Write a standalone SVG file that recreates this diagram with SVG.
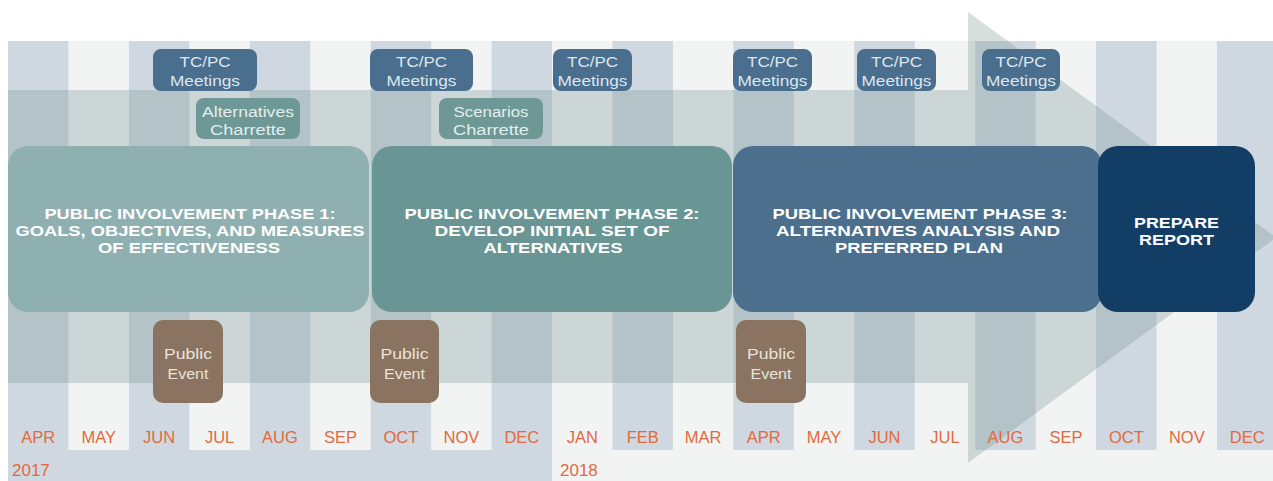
<svg xmlns="http://www.w3.org/2000/svg" width="1273" height="481" viewBox="0 0 1273 481">
  <defs>
    <style>
      .bg-light { fill: #f2f4f4; }
      .bg-blue { fill: #cfd8e0; }
      .flow { fill: #779393; fill-opacity: 0.3; }
      .meet { fill: #4a6e8e; }
      .charrette { fill: #6e9896; }
      .event { fill: #8a7461; }
      .p1 { fill: #8fb0b1; }
      .p2 { fill: #6a9595; }
      .p3 { fill: #4b6f8d; }
      .p4 { fill: #123e66; }
      .small { font-family: "Liberation Sans", Arial, sans-serif; font-size: 15.5px; text-anchor: middle; }
      .meet-t { fill: #dce6ee; }
      .char-t { fill: #e2eeed; }
      .event-t { fill: #ebe3da; }
      .phase-t { font-family: "Liberation Sans", Arial, sans-serif; font-weight: 700; font-size: 15px; fill: #ffffff; text-anchor: middle; }
      .month { font-family: "Liberation Sans", Arial, sans-serif; font-size: 16.5px; fill: #e2693e; text-anchor: middle; }
      .year { font-family: "Liberation Sans", Arial, sans-serif; font-size: 17px; fill: #e2693e; }
    </style>
  </defs>

  <rect x="0" y="0" width="1273" height="481" fill="#ffffff"/>

  <!-- calendar grid: 2017 band and 2018 band with alternating month columns -->
  <g id="calendar">
    <rect class="bg-blue" x="8" y="41" width="544.05" height="440"/>
    <rect class="bg-light" x="552.05" y="41" width="721" height="440"/>
    <rect class="bg-light" x="68.45" y="41" width="60.45" height="409"/>
    <rect class="bg-light" x="189.35" y="41" width="60.45" height="409"/>
    <rect class="bg-light" x="310.25" y="41" width="60.45" height="409"/>
    <rect class="bg-light" x="431.15" y="41" width="60.45" height="409"/>
    <rect class="bg-blue" x="612.5" y="41" width="60.45" height="409"/>
    <rect class="bg-blue" x="733.4" y="41" width="60.45" height="409"/>
    <rect class="bg-blue" x="854.3" y="41" width="60.45" height="409"/>
    <rect class="bg-blue" x="975.2" y="41" width="60.45" height="409"/>
    <rect class="bg-blue" x="1096.1" y="41" width="60.45" height="409"/>
    <rect class="bg-blue" x="1217" y="41" width="60.45" height="409"/>
  </g>

  <!-- translucent timeline arrow -->
  <polygon id="timeline-arrow" class="flow" points="8,90 968,90 968,12 1276,237.5 968,463 968,383 8,383"/>

  <!-- month and year labels -->
  <g id="months">
    <text class="month" x="38.2" y="443">APR</text>
    <text class="month" x="98.7" y="443">MAY</text>
    <text class="month" x="159.1" y="443">JUN</text>
    <text class="month" x="219.6" y="443">JUL</text>
    <text class="month" x="280" y="443">AUG</text>
    <text class="month" x="340.5" y="443">SEP</text>
    <text class="month" x="400.9" y="443">OCT</text>
    <text class="month" x="461.4" y="443">NOV</text>
    <text class="month" x="521.8" y="443">DEC</text>
    <text class="month" x="582.3" y="443">JAN</text>
    <text class="month" x="642.7" y="443">FEB</text>
    <text class="month" x="703.2" y="443">MAR</text>
    <text class="month" x="763.6" y="443">APR</text>
    <text class="month" x="824.1" y="443">MAY</text>
    <text class="month" x="884.5" y="443">JUN</text>
    <text class="month" x="945" y="443">JUL</text>
    <text class="month" x="1005.4" y="443">AUG</text>
    <text class="month" x="1065.9" y="443">SEP</text>
    <text class="month" x="1126.3" y="443">OCT</text>
    <text class="month" x="1186.8" y="443">NOV</text>
    <text class="month" x="1247.2" y="443">DEC</text>
    <text class="year" x="12" y="476">2017</text>
    <text class="year" x="560" y="476">2018</text>
  </g>

  <!-- TC/PC meetings -->
  <g id="meeting-1">
    <rect class="meet" x="153" y="49" width="104" height="42" rx="8"/>
    <text class="small meet-t" x="205" y="67" textLength="51" lengthAdjust="spacingAndGlyphs">TC/PC</text>
    <text class="small meet-t" x="205" y="86" textLength="70" lengthAdjust="spacingAndGlyphs">Meetings</text>
  </g>
  <g id="meeting-2">
    <rect class="meet" x="370" y="49" width="103" height="42" rx="8"/>
    <text class="small meet-t" x="421.5" y="67" textLength="51" lengthAdjust="spacingAndGlyphs">TC/PC</text>
    <text class="small meet-t" x="421.5" y="86" textLength="70" lengthAdjust="spacingAndGlyphs">Meetings</text>
  </g>
  <g id="meeting-3">
    <rect class="meet" x="553" y="49" width="79" height="42" rx="8"/>
    <text class="small meet-t" x="592.5" y="67" textLength="51" lengthAdjust="spacingAndGlyphs">TC/PC</text>
    <text class="small meet-t" x="592.5" y="86" textLength="70" lengthAdjust="spacingAndGlyphs">Meetings</text>
  </g>
  <g id="meeting-4">
    <rect class="meet" x="733" y="49" width="79" height="42" rx="8"/>
    <text class="small meet-t" x="772.5" y="67" textLength="51" lengthAdjust="spacingAndGlyphs">TC/PC</text>
    <text class="small meet-t" x="772.5" y="86" textLength="70" lengthAdjust="spacingAndGlyphs">Meetings</text>
  </g>
  <g id="meeting-5">
    <rect class="meet" x="857" y="49" width="79" height="42" rx="8"/>
    <text class="small meet-t" x="896.5" y="67" textLength="51" lengthAdjust="spacingAndGlyphs">TC/PC</text>
    <text class="small meet-t" x="896.5" y="86" textLength="70" lengthAdjust="spacingAndGlyphs">Meetings</text>
  </g>
  <g id="meeting-6">
    <rect class="meet" x="982" y="49" width="78" height="42" rx="8"/>
    <text class="small meet-t" x="1021" y="67" textLength="51" lengthAdjust="spacingAndGlyphs">TC/PC</text>
    <text class="small meet-t" x="1021" y="86" textLength="70" lengthAdjust="spacingAndGlyphs">Meetings</text>
  </g>

  <!-- charrettes -->
  <g id="alternatives-charrette">
    <rect class="charrette" x="196" y="98" width="104" height="41" rx="8"/>
    <text class="small char-t" x="248" y="117" textLength="92" lengthAdjust="spacingAndGlyphs">Alternatives</text>
    <text class="small char-t" x="248" y="135" textLength="76" lengthAdjust="spacingAndGlyphs">Charrette</text>
  </g>
  <g id="scenarios-charrette">
    <rect class="charrette" x="439" y="98" width="104" height="41" rx="8"/>
    <text class="small char-t" x="491" y="117" textLength="75" lengthAdjust="spacingAndGlyphs">Scenarios</text>
    <text class="small char-t" x="491" y="135" textLength="76" lengthAdjust="spacingAndGlyphs">Charrette</text>
  </g>

  <!-- phases -->
  <g id="phase-1">
    <rect class="p1" x="8" y="146" width="361" height="166" rx="20"/>
    <text class="phase-t" x="190" y="219" textLength="291" lengthAdjust="spacingAndGlyphs">PUBLIC INVOLVEMENT PHASE 1:</text>
    <text class="phase-t" x="190" y="236" textLength="349" lengthAdjust="spacingAndGlyphs">GOALS, OBJECTIVES, AND MEASURES</text>
    <text class="phase-t" x="189" y="253" textLength="182" lengthAdjust="spacingAndGlyphs">OF EFFECTIVENESS</text>
  </g>
  <g id="phase-2">
    <rect class="p2" x="372" y="146" width="360" height="166" rx="20"/>
    <text class="phase-t" x="552" y="219" textLength="295" lengthAdjust="spacingAndGlyphs">PUBLIC INVOLVEMENT PHASE 2:</text>
    <text class="phase-t" x="552" y="236" textLength="235" lengthAdjust="spacingAndGlyphs">DEVELOP INITIAL SET OF</text>
    <text class="phase-t" x="553" y="253" textLength="139" lengthAdjust="spacingAndGlyphs">ALTERNATIVES</text>
  </g>
  <g id="phase-3">
    <rect class="p3" x="733" y="146" width="369" height="166" rx="20"/>
    <text class="phase-t" x="920" y="219" textLength="295" lengthAdjust="spacingAndGlyphs">PUBLIC INVOLVEMENT PHASE 3:</text>
    <text class="phase-t" x="918" y="236" textLength="284" lengthAdjust="spacingAndGlyphs">ALTERNATIVES ANALYSIS AND</text>
    <text class="phase-t" x="919" y="253" textLength="168" lengthAdjust="spacingAndGlyphs">PREFERRED PLAN</text>
  </g>
  <g id="prepare-report">
    <rect class="p4" x="1098" y="146" width="157" height="166" rx="20"/>
    <text class="phase-t" x="1176.5" y="228" textLength="85" lengthAdjust="spacingAndGlyphs">PREPARE</text>
    <text class="phase-t" x="1176.5" y="245" textLength="75" lengthAdjust="spacingAndGlyphs">REPORT</text>
  </g>

  <!-- public events -->
  <g id="public-event-1">
    <rect class="event" x="153" y="320" width="70" height="83" rx="10"/>
    <text class="small event-t" x="188" y="359" textLength="48" lengthAdjust="spacingAndGlyphs">Public</text>
    <text class="small event-t" x="188" y="379" textLength="41" lengthAdjust="spacingAndGlyphs">Event</text>
  </g>
  <g id="public-event-2">
    <rect class="event" x="370" y="320" width="69" height="83" rx="10"/>
    <text class="small event-t" x="404.5" y="359" textLength="48" lengthAdjust="spacingAndGlyphs">Public</text>
    <text class="small event-t" x="404.5" y="379" textLength="41" lengthAdjust="spacingAndGlyphs">Event</text>
  </g>
  <g id="public-event-3">
    <rect class="event" x="736" y="320" width="70" height="83" rx="10"/>
    <text class="small event-t" x="771" y="359" textLength="48" lengthAdjust="spacingAndGlyphs">Public</text>
    <text class="small event-t" x="771" y="379" textLength="41" lengthAdjust="spacingAndGlyphs">Event</text>
  </g>
</svg>
